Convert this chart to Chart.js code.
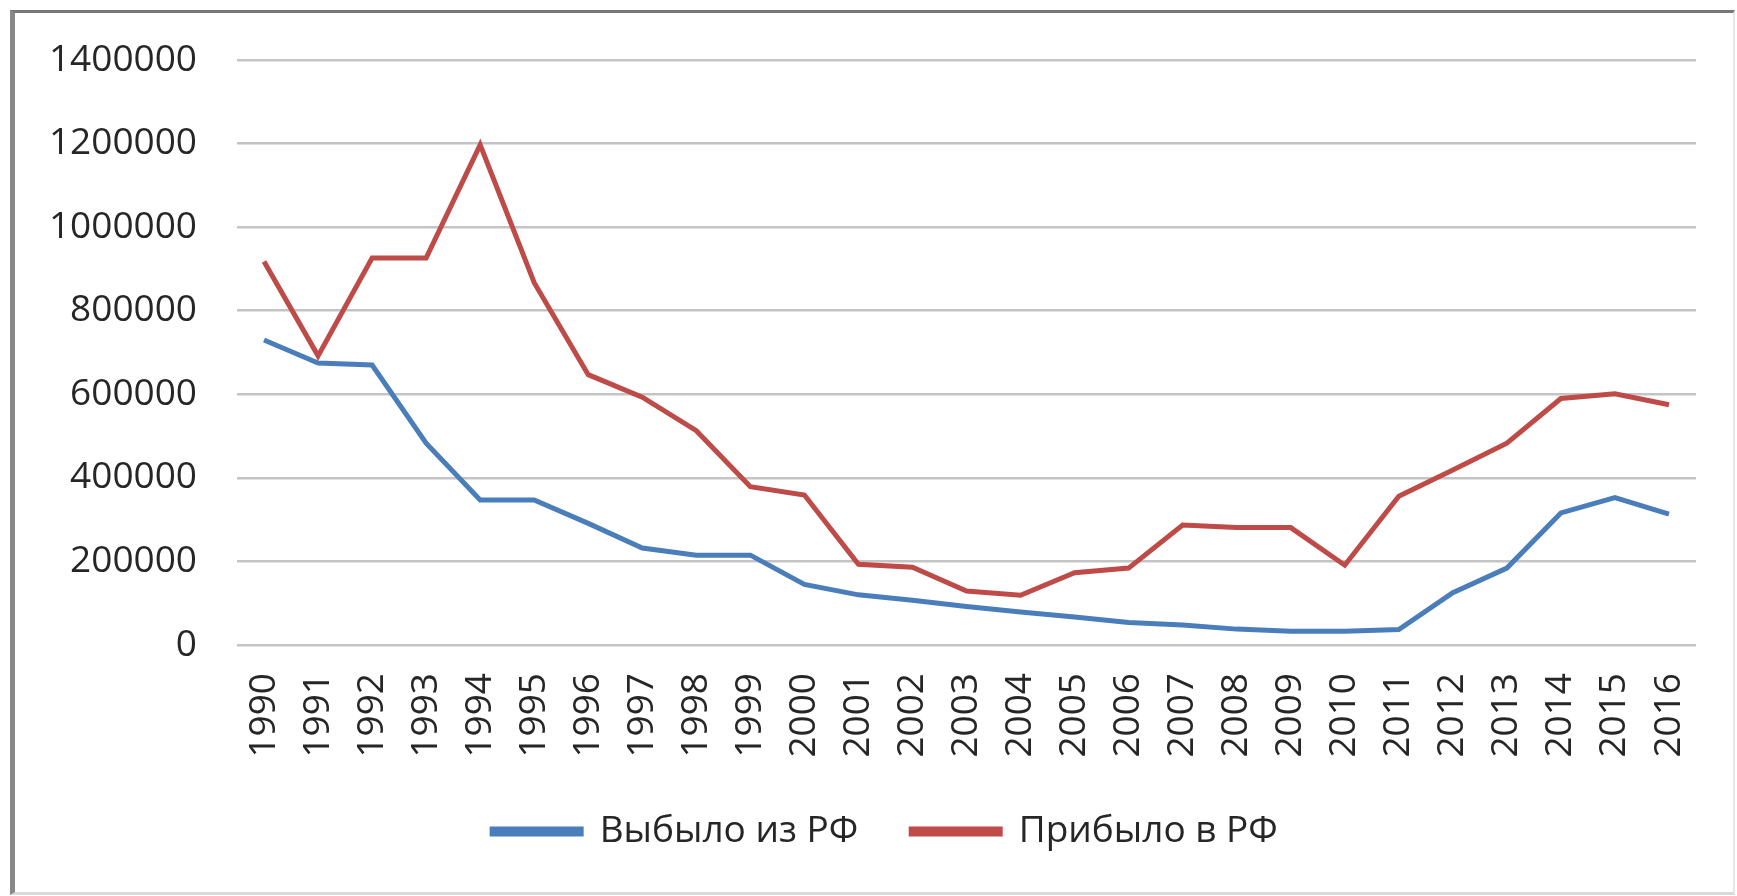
<!DOCTYPE html>
<html>
<head>
<meta charset="utf-8">
<script src="https://cdn.jsdelivr.net/npm/chart.js@4"></script>
<style>
  html, body { margin:0; padding:0; background:#fff; }
  body { width:1737px; height:896px; position:relative; overflow:hidden; }
  #frame {
    position:absolute; left:10px; top:10px; width:1718px; height:879px;
    border-left:5px solid #888; border-top:3px solid #777;
    border-right:2px solid #e6e6e6; border-bottom:3px solid #d9d9d9;
  }
  #wrap { position:absolute; left:14px; top:13px; width:1718px; height:878px; }
</style>
</head>
<body>
<div id="frame"></div>
<div id="wrap"><canvas id="c"></canvas></div>
<script>
// migration to / from Russia, persons per year
const years = ['1990','1991','1992','1993','1994','1995','1996','1997','1998','1999',
  '2000','2001','2002','2003','2004','2005','2006','2007','2008','2009',
  '2010','2011','2012','2013','2014','2015','2016'];
const leftRF = [730000, 675000, 670000, 483000, 347000, 347000, 291000, 232000, 215000, 215000,
  145000, 120000, 107000, 92000, 79000, 67000, 54000, 48000, 38000, 33000,
  33000, 37000, 125000, 184000, 316000, 353000, 313000];
const arrivedRF = [918000, 692000, 926000, 926000, 1197000, 867000, 647000, 593000, 513000, 379000,
  359000, 193000, 186000, 129000, 119000, 173000, 184000, 287000, 281000, 281000,
  191000, 356000, 419000, 483000, 590000, 601000, 575000];
const yTicks = [0, 200000, 400000, 600000, 800000, 1000000, 1200000, 1400000];

const FONT = "'Open Sans', 'Liberation Sans', sans-serif";
const TXT = '#262626';
const NONE = 'rgba(0,0,0,0)';

// legend sits a bit right of the canvas centre in the original
const shiftLegend = {
  id: 'shiftLegend',
  afterLayout(chart){
    const l = chart.legend;
    if (!l) return;
    l.left += 30; l.right += 30;
  }
};

new Chart(document.getElementById('c'), {
  type: 'line',
  data: {
    labels: years,
    datasets: [
      { label: 'Выбыло из РФ', data: leftRF, borderColor: '#4a7ebb', backgroundColor: '#4a7ebb',
        borderWidth: 5, pointRadius: 0, tension: 0 },
      { label: 'Прибыло в РФ', data: arrivedRF, borderColor: '#be4b48', backgroundColor: '#be4b48',
        borderWidth: 5, pointRadius: 0, tension: 0 }
    ]
  },
  plugins: [shiftLegend],
  options: {
    responsive: true,
    maintainAspectRatio: false,
    animation: false,
    layout: { padding: { left: 0, right: 36, top: 47, bottom: 31 } },
    plugins: {
      tooltip: { enabled: false },
      legend: {
        position: 'bottom',
        labels: {
          font: { family: FONT, size: 37 }, color: TXT,
          boxWidth: 89, boxHeight: 5, padding: 53
        }
      }
    },
    scales: {
      x: {
        offset: true,
        // invisible tick marks instead of ticks.padding (padding also widens the side margins)
        grid: { drawOnChartArea: false, drawTicks: true, tickLength: 28, tickColor: NONE },
        border: { display: false },
        ticks: { font: { family: FONT, size: 37 }, color: TXT, maxRotation: 90, minRotation: 90, padding: 0, autoSkip: false },
        afterFit: s => { s.height = 115; }
      },
      y: {
        min: 0, max: 1400000,
        afterBuildTicks: s => { s.ticks = yTicks.map(v => ({ value: v })); },
        grid: { color: '#c4c4c4', lineWidth: 2.5, drawTicks: true, tickLength: 40, tickColor: NONE },
        border: { display: false },
        ticks: { font: { family: FONT, size: 37 }, color: TXT, padding: 0, callback: v => String(v) },
        afterFit: s => { s.width = 223; }
      }
    }
  }
});
</script>
</body>
</html>
